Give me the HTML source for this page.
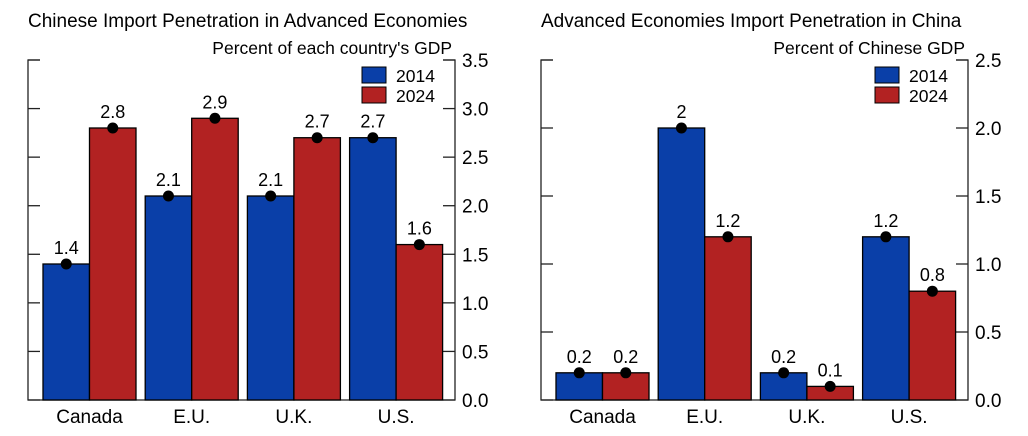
<!DOCTYPE html>
<html><head><meta charset="utf-8"><style>
body{margin:0;background:#fff;}
svg{display:block;font-family:"Liberation Sans",Arial,sans-serif;}
</style></head><body>
<svg id="chart" width="1028" height="436"></svg>
<script>
const categories=["Canada","E.U.","U.K.","U.S."];
const left2014=[1.4,2.1,2.1,2.7];
const left2024=[2.8,2.9,2.7,1.6];
const right2014=[0.2,2,0.2,1.2];
const right2024=[0.2,1.2,0.1,0.8];
const leftLabels2014=["1.4","2.1","2.1","2.7"];
const leftLabels2024=["2.8","2.9","2.7","1.6"];
const rightLabels2014=["0.2","2","0.2","1.2"];
const rightLabels2024=["0.2","1.2","0.1","0.8"];
const leftTicks=[0,0.5,1,1.5,2,2.5,3,3.5];
const rightTicks=[0,0.5,1,1.5,2,2.5];
const NS="http://www.w3.org/2000/svg";
const svg=document.getElementById('chart');
function mk(tag,attrs,parent,text){const e=document.createElementNS(NS,tag);for(const k in attrs)e.setAttribute(k,attrs[k]);if(text!==undefined)e.textContent=text;(parent||svg).appendChild(e);return e;}
function panel(o){
  const g=mk('g',{});
  
  
  const y=v=>400-v*(340/o.max);
  const t=mk('text',{x:o.x0,y:27,'font-size':19,fill:'#000'},g,o.title);
  
  
  const st=mk('text',{x:o.x1-3,y:54,'font-size':17.5,'text-anchor':'end',fill:'#000'},g,o.sub);
  
  
  const ax={stroke:'#222','stroke-width':1.3,fill:'none'};
  const a=mk('path',Object.assign({d:`M${o.x0+12},60 H${o.x0} V400 H${o.x1} V60 H${o.x1-12}`},ax),g);
  
  
  o.ticks.forEach(v=>{
    mk('line',Object.assign({x1:o.x0,x2:o.x0+12,y1:y(v),y2:y(v)},ax),g);
    mk('line',Object.assign({x1:o.x1-12,x2:o.x1,y1:y(v),y2:y(v)},ax),g);
    const tl=mk('text',{x:o.x1+7,y:y(v)+7,'font-size':19,fill:'#000'},g,v.toFixed(1));
    
    
  });
  categories.forEach((c,i)=>{
    const cx=o.x0+61.5+102.2*i, bw=46.5;
    [[o.s1,o.l1,'#0a3fa8',cx-bw],[o.s2,o.l2,'#b22222',cx]].forEach(([s,l,col,bx],j)=>{
      const r=mk('rect',{x:bx,y:y(s[i]),width:bw,height:400-y(s[i]),fill:col,stroke:'#000','stroke-width':1.3},g);
      
      
      const d=mk('circle',{cx:bx+bw/2,cy:y(s[i]),r:5.5,fill:'#000'},g);
      
      
      const vl=mk('text',{x:bx+bw/2,y:y(s[i])-10,'font-size':18,'text-anchor':'middle',fill:'#000'},g,l[i]);
      
      
    });
    const xl=mk('text',{x:cx,y:423,'font-size':19,'text-anchor':'middle',fill:'#000'},g,c);
    
    
  });
  [['2014','#0a3fa8',67],['2024','#b22222',87]].forEach(([n,col,yy])=>{
    const lb=mk('rect',{x:o.x1-93,y:yy,width:24,height:16,fill:col,stroke:'#000','stroke-width':1},g);
    
    
    const lt=mk('text',{x:o.x1-59,y:yy+15,'font-size':17.5,fill:'#000'},g,n);
    
    
  });
}
panel({name:'left-panel',x0:28,x1:455,max:3.5,ticks:leftTicks,s1:left2014,s2:left2024,l1:leftLabels2014,l2:leftLabels2024,title:'Chinese Import Penetration in Advanced Economies',sub:"Percent of each country's GDP"});
panel({name:'right-panel',x0:541,x1:968,max:2.5,ticks:rightTicks,s1:right2014,s2:right2024,l1:rightLabels2014,l2:rightLabels2024,title:'Advanced Economies Import Penetration in China',sub:'Percent of Chinese GDP'});
</script>
</body></html>
